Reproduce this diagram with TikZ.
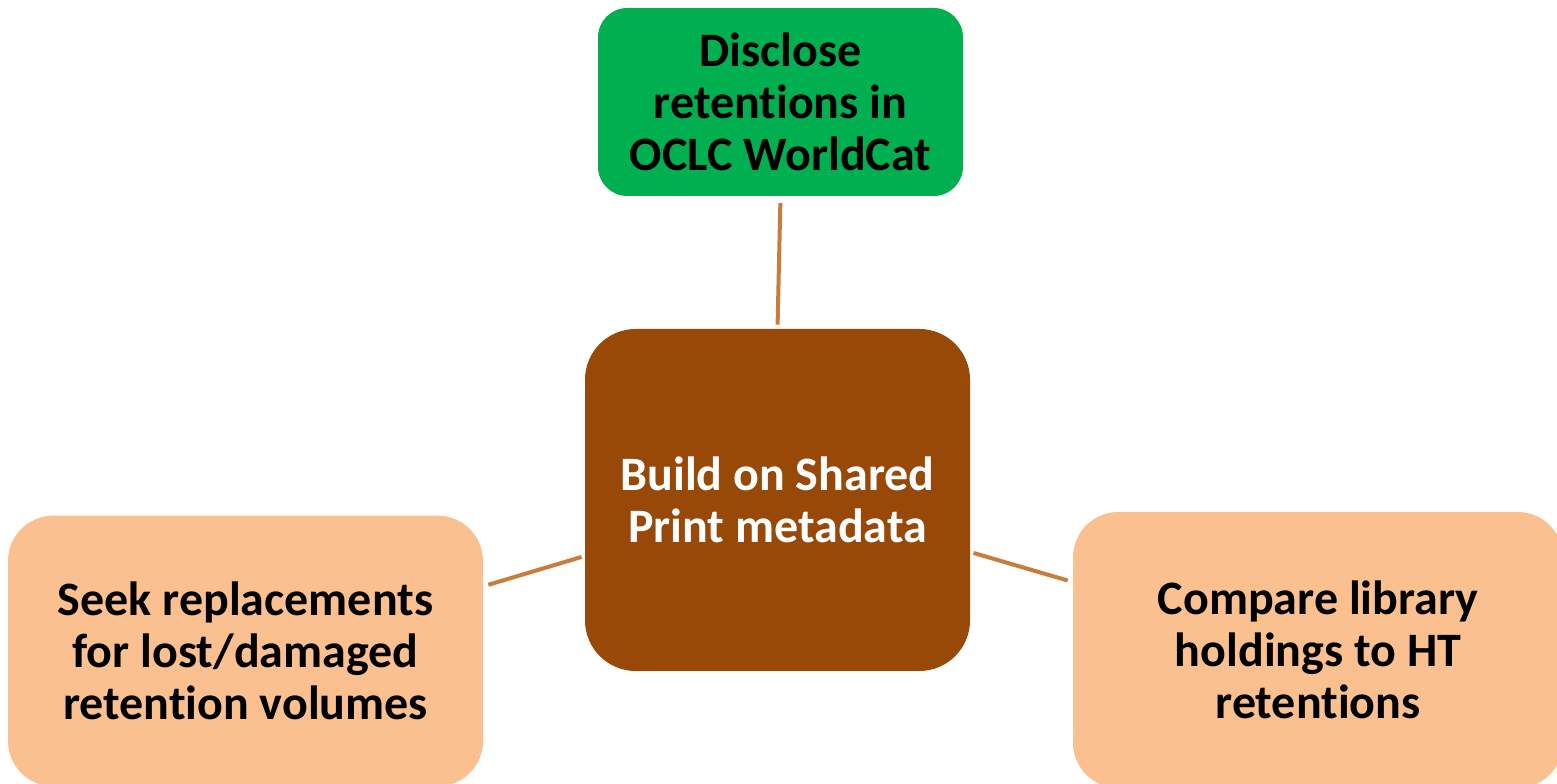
\documentclass[tikz,border=0pt]{standalone}
\usepackage{fontspec}
\setmainfont{Carlito}[Ligatures={NoCommon,NoContextual}]
\definecolor{leafgreen}{HTML}{00B050}
\definecolor{rust}{HTML}{984807}
\definecolor{peach}{HTML}{FAC090}
\definecolor{linkbrown}{HTML}{C87D3E}
\begin{document}
\begin{tikzpicture}[x=0.75pt, y=0.75pt,
  box/.style={rectangle, align=center, inner sep=0pt,
    font=\fontsize{36}{39}\selectfont\bfseries},
  link/.style={linkbrown, line width=3pt}]

\clip (0,0) rectangle (1557,784);
\fill [white] (0,0) rectangle (1557,784);

\node [box, fill=leafgreen, rounded corners=22pt,
  minimum width=273.75pt, minimum height=141pt] (disclose) at (780.5,682)
  {Disclose\\retentions in\\OCLC WorldCat};

\node [box, text=white, fill=rust, rounded corners=38pt,
  minimum width=288.75pt, minimum height=256.5pt] (hub) at (777.5,284)
  {Build on Shared\\Print metadata};

\node [box, fill=peach, rounded corners=34pt,
  minimum width=356.25pt, minimum height=203pt] (seek) at (245.5,133)
  {Seek replacements\\for lost/damaged\\retention volumes};

\node [box, fill=peach, rounded corners=34pt,
  minimum width=367.5pt, minimum height=207pt] (compare) at (1318,134)
  {Compare library\\holdings to HT\\retentions};

\draw [link, shorten <=5pt, shorten >=3pt] (disclose.south) -- (hub.north);
\draw [link, shorten <=2.5pt, shorten >=4pt] ([yshift=-42pt]hub.west) -- ([yshift=48.5pt]seek.east);
\draw [link, shorten <=2.5pt, shorten >=4pt] ([yshift=-39pt]hub.east) -- ([yshift=51pt]compare.west);

\end{tikzpicture}
\end{document}
